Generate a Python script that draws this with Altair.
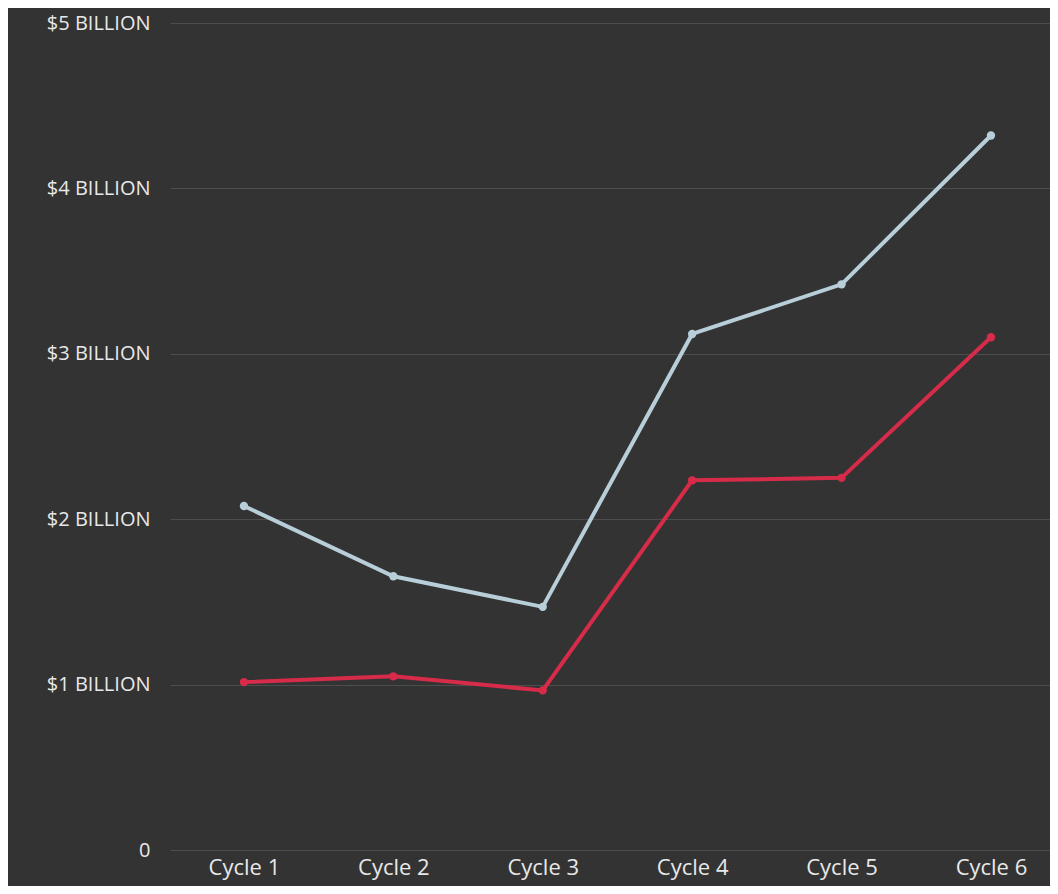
import altair as alt
import pandas as pd

cycles = ["Cycle 1", "Cycle 2", "Cycle 3", "Cycle 4", "Cycle 5", "Cycle 6"]
series_a = [2.08, 1.655, 1.47, 3.12, 3.42, 4.32]   # light blue line, $ billions
series_b = [1.015, 1.05, 0.965, 2.235, 2.25, 3.10]  # red line, $ billions
series_names = ["A", "B"]
series_colors = ["#b8ced9", "#d72b4a"]
y_ticks = [0, 1, 2, 3, 4, 5]

rows = []
for name, vals in zip(series_names, [series_a, series_b]):
    for c, v in zip(cycles, vals):
        rows.append({"cycle": c, "value": v, "series": name})
df = pd.DataFrame(rows)

x = alt.X(
    "cycle:N",
    sort=cycles,
    title=None,
    scale=alt.Scale(type="point", padding=0.445, align=0.556),
    axis=alt.Axis(
        labelAngle=0,
        labelFont="Open Sans",
        labelFontSize=22,
        labelColor="#e8e8e8",
        labelPadding=7,
        ticks=False,
        domain=False,
        grid=False,
    ),
)
y = alt.Y(
    "value:Q",
    title=None,
    scale=alt.Scale(domain=[0, 5], nice=False),
    axis=alt.Axis(
        values=y_ticks,
        labelExpr="datum.value == 0 ? '0' : '$' + datum.value + ' BILLION'",
        labelFont="Open Sans",
        labelFontSize=20,
        labelColor="#e8e8e8",
        labelPadding=20,
        ticks=False,
        domain=False,
        grid=True,
        gridColor="#4d4d4d",
        gridWidth=1,
    ),
)
color = alt.Color(
    "series:N",
    scale=alt.Scale(domain=series_names, range=series_colors),
    legend=None,
)

base = alt.Chart(df).encode(x=x, y=y, color=color, detail="series:N")
lines = base.mark_line(strokeWidth=4)
points = base.mark_point(filled=True, size=70, opacity=1)

chart = (
    (lines + points)
    .properties(
        width=880,
        height=827,
        background="#333333",
        autosize=alt.AutoSizeParams(type="none"),
        padding={"left": 162, "top": 15, "right": 0, "bottom": 36},
    )
    .configure_view(stroke=None)
)

chart.save("out.html", embed_options={"renderer": "svg", "actions": False})
